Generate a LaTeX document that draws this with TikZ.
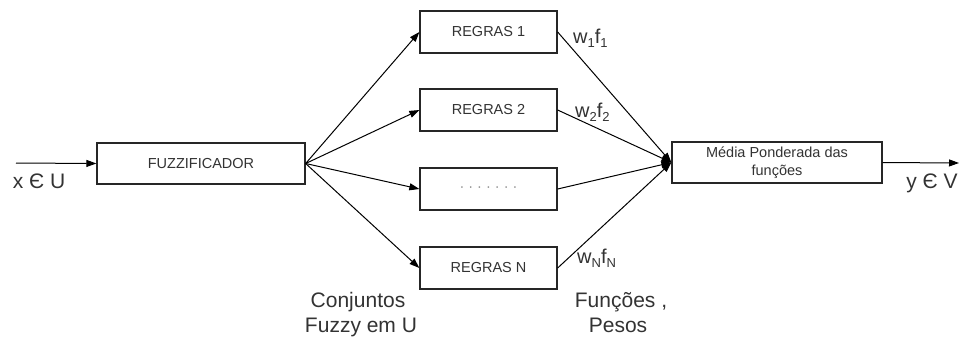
\documentclass[tikz,border=0pt]{standalone}
\usepackage{fontspec}
\setmainfont{Liberation Sans}
\usetikzlibrary{arrows.meta}
\definecolor{txt}{HTML}{333333}
\newcommand{\mysub}[1]{\raisebox{-0.22em}{\fontsize{13}{13}\selectfont #1}}
\begin{document}
\begin{tikzpicture}[x=1pt,y=-1pt,
  box/.style={draw=black!85, line width=1.3pt, inner sep=0pt, text=txt,
    font=\fontsize{14.5}{18.5}\selectfont, align=center},
  conn/.style={line width=1pt, -{Triangle[length=10pt,width=7pt]}},
  lbl/.style={text=txt, inner sep=0pt, font=\fontsize{21}{25}\selectfont},
  wlbl/.style={text=txt, inner sep=0pt, font=\fontsize{20}{24}\selectfont},
]
\useasboundingbox (0,0) rectangle (960,338);
\fill[white] (0,0) rectangle (960,338);

\node[box, minimum width=208pt, minimum height=41pt] (fz) at (201,163.5) {FUZZIFICADOR};
\node[box, minimum width=137pt, minimum height=42pt] (r1) at (488.5,32) {REGRAS 1};
\node[box, minimum width=137pt, minimum height=42pt] (r2) at (488.5,110) {REGRAS 2};
\node[box, minimum width=137pt, minimum height=42pt] (r3) at (488.5,189) {\textcolor{black!45}{· · · · · · ·}};
\node[box, minimum width=137pt, minimum height=42pt] (rn) at (488.5,268) {REGRAS N};
\node[box, minimum width=210pt, minimum height=41pt] (m) at (777,162.5) {Média Ponderada das\\funções};

\coordinate (in) at (16,163);
\coordinate (out) at (959,163);

\draw[conn] (in) -- (fz.west);
\draw[conn] (m.east) -- (out);
\foreach \r in {r1,r2,r3,rn}{
  \draw[conn] (fz.east) -- (\r.west);
  \draw[conn] (\r.east) -- (m.west);
}

\node[lbl, anchor=base] (xu) at (39,188) {x Є U};
\node[lbl, anchor=base] (yv) at (932,188) {y Є V};

\node[wlbl, anchor=base west] (w1) at (573,43) {w\mysub{1}f\mysub{1}};
\node[wlbl, anchor=base west] (w2) at (575,117) {w\mysub{2}f\mysub{2}};
\node[wlbl, anchor=base west] (wn) at (577,263) {w\mysub{N}f\mysub{N}};

\node[lbl, anchor=base] (c1) at (358,307) {Conjuntos};
\node[lbl, anchor=base] (c2) at (361,332) {Fuzzy em U};
\node[lbl, anchor=base] (f1) at (621,307) {Funções ,};
\node[lbl, anchor=base] (f2) at (618,332) {Pesos};
\end{tikzpicture}
\end{document}
